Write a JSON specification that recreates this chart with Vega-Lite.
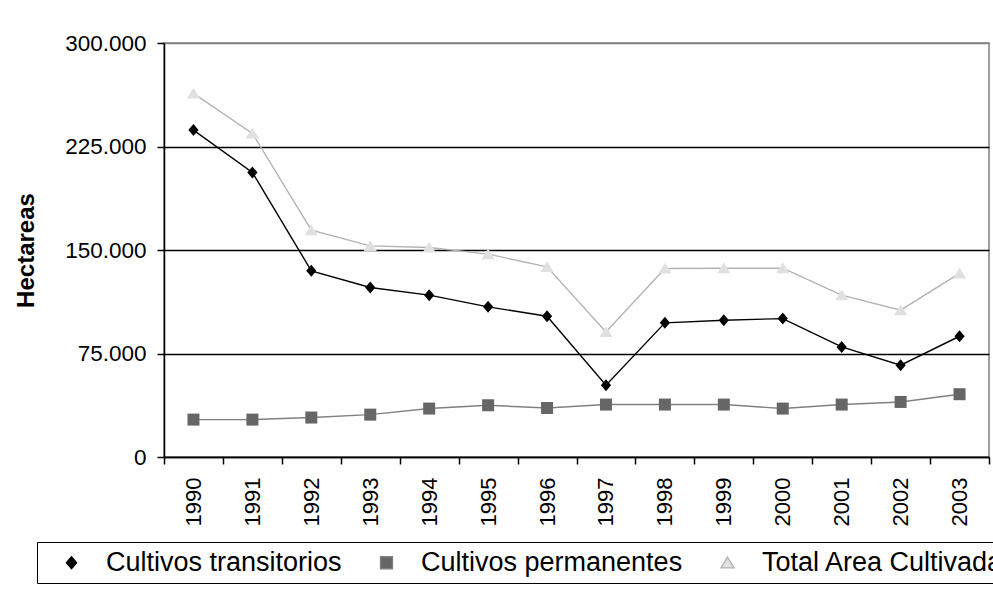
{
  "$schema": "https://vega.github.io/schema/vega-lite/v6.json",
  "autosize": "none",
  "width": 825,
  "height": 414,
  "padding": {"left": 164, "top": 43, "right": 4, "bottom": 133},
  "background": "white",
  "config": {
    "font": "Liberation Sans",
    "view": {"stroke": "#808080", "strokeWidth": 1.5},
    "legend": {
      "orient": "none",
      "legendX": -127,
      "legendY": 499,
      "direction": "horizontal",
      "columns": 3,
      "strokeColor": "#000",
      "padding": 7,
      "symbolSize": 144,
      "symbolOffset": 14,
      "symbolStrokeWidth": 1.3,
      "labelFontSize": 27,
      "labelFont": "Liberation Sans",
      "labelColor": "#000",
      "labelOffset": 21,
      "columnPadding": 17,
      "labelLimit": 500
    }
  },
  "data": {
    "values": [
      {"year": "1990", "series": "Cultivos transitorios", "value": 236900},
      {"year": "1991", "series": "Cultivos transitorios", "value": 206200},
      {"year": "1992", "series": "Cultivos transitorios", "value": 134900},
      {"year": "1993", "series": "Cultivos transitorios", "value": 122800},
      {"year": "1994", "series": "Cultivos transitorios", "value": 117300},
      {"year": "1995", "series": "Cultivos transitorios", "value": 108800},
      {"year": "1996", "series": "Cultivos transitorios", "value": 102000},
      {"year": "1997", "series": "Cultivos transitorios", "value": 52000},
      {"year": "1998", "series": "Cultivos transitorios", "value": 97200},
      {"year": "1999", "series": "Cultivos transitorios", "value": 99100},
      {"year": "2000", "series": "Cultivos transitorios", "value": 100300},
      {"year": "2001", "series": "Cultivos transitorios", "value": 79800},
      {"year": "2002", "series": "Cultivos transitorios", "value": 66500},
      {"year": "2003", "series": "Cultivos transitorios", "value": 87500},
      {"year": "1990", "series": "Cultivos permanentes", "value": 27100},
      {"year": "1991", "series": "Cultivos permanentes", "value": 27100},
      {"year": "1992", "series": "Cultivos permanentes", "value": 28600},
      {"year": "1993", "series": "Cultivos permanentes", "value": 30700},
      {"year": "1994", "series": "Cultivos permanentes", "value": 35100},
      {"year": "1995", "series": "Cultivos permanentes", "value": 37500},
      {"year": "1996", "series": "Cultivos permanentes", "value": 35500},
      {"year": "1997", "series": "Cultivos permanentes", "value": 38000},
      {"year": "1998", "series": "Cultivos permanentes", "value": 38000},
      {"year": "1999", "series": "Cultivos permanentes", "value": 38000},
      {"year": "2000", "series": "Cultivos permanentes", "value": 35100},
      {"year": "2001", "series": "Cultivos permanentes", "value": 38000},
      {"year": "2002", "series": "Cultivos permanentes", "value": 39900},
      {"year": "2003", "series": "Cultivos permanentes", "value": 45500},
      {"year": "1990", "series": "Total Area Cultivada", "value": 263500},
      {"year": "1991", "series": "Total Area Cultivada", "value": 234500},
      {"year": "1992", "series": "Total Area Cultivada", "value": 164400},
      {"year": "1993", "series": "Total Area Cultivada", "value": 153000},
      {"year": "1994", "series": "Total Area Cultivada", "value": 151800},
      {"year": "1995", "series": "Total Area Cultivada", "value": 147000},
      {"year": "1996", "series": "Total Area Cultivada", "value": 137800},
      {"year": "1997", "series": "Total Area Cultivada", "value": 90600},
      {"year": "1998", "series": "Total Area Cultivada", "value": 136600},
      {"year": "1999", "series": "Total Area Cultivada", "value": 136800},
      {"year": "2000", "series": "Total Area Cultivada", "value": 136800},
      {"year": "2001", "series": "Total Area Cultivada", "value": 117300},
      {"year": "2002", "series": "Total Area Cultivada", "value": 106400},
      {"year": "2003", "series": "Total Area Cultivada", "value": 133000}
    ]
  },
  "encoding": {
    "x": {
      "field": "year",
      "type": "ordinal",
      "scale": {"type": "band", "paddingInner": 0, "paddingOuter": 0},
      "axis": {
        "title": null,
        "labelAngle": -90,
        "labelFontSize": 22,
        "labelColor": "#000",
        "labelPadding": 13,
        "tickSize": 7,
        "tickColor": "#000",
        "tickBand": "extent",
        "domainColor": "#000",
        "domainWidth": 1.5,
        "tickWidth": 1.5,
        "grid": false
      }
    },
    "y": {
      "field": "value",
      "type": "quantitative",
      "scale": {"domain": [0, 300000], "nice": false},
      "axis": {
        "title": "Hectareas",
        "titleFontSize": 24,
        "titleFontWeight": "bold",
        "titleColor": "#000",
        "titlePadding": 26,
        "values": [0, 75000, 150000, 225000, 300000],
        "labelExpr": "datum.value == 0 ? '0' : format(datum.value / 1000, 'd') + '.000'",
        "labelFontSize": 22.5,
        "labelColor": "#000",
        "labelPadding": 11,
        "labelFlush": false,
        "tickSize": 7,
        "tickColor": "#000",
        "tickWidth": 1.5,
        "domainColor": "#000",
        "domainWidth": 1.5,
        "grid": true,
        "gridColor": {"condition": {"test": "datum.value == 300000", "value": "#808080"}, "value": "#000"},
        "gridWidth": 1.5,
        "gridOpacity": 1
      }
    }
  },
  "layer": [
    {
      "mark": {"type": "line", "strokeWidth": 1.4},
      "encoding": {
        "color": {
          "field": "series",
          "type": "nominal",
          "scale": {
            "domain": ["Cultivos transitorios", "Cultivos permanentes", "Total Area Cultivada"],
            "range": ["#000000", "#808080", "#b3b3b3"]
          },
          "legend": {"title": null}
        }
      }
    },
    {
      "mark": {"type": "point", "filled": true, "size": 144, "opacity": 1, "strokeWidth": 0},
      "encoding": {
        "fill": {
          "field": "series",
          "type": "nominal",
          "scale": {
            "domain": ["Cultivos transitorios", "Cultivos permanentes", "Total Area Cultivada"],
            "range": ["#000000", "#666666", "#e0e0e0"]
          },
          "legend": {"title": null}
        },
        "shape": {
          "field": "series",
          "type": "nominal",
          "scale": {
            "domain": ["Cultivos transitorios", "Cultivos permanentes", "Total Area Cultivada"],
            "range": ["M0,-1L0.85,0L0,1L-0.85,0Z", "M-1,-1H1V1H-1Z", "M0,-0.95L1.1,0.85H-1.1Z"]
          },
          "legend": {"title": null}
        }
      }
    }
  ]
}
